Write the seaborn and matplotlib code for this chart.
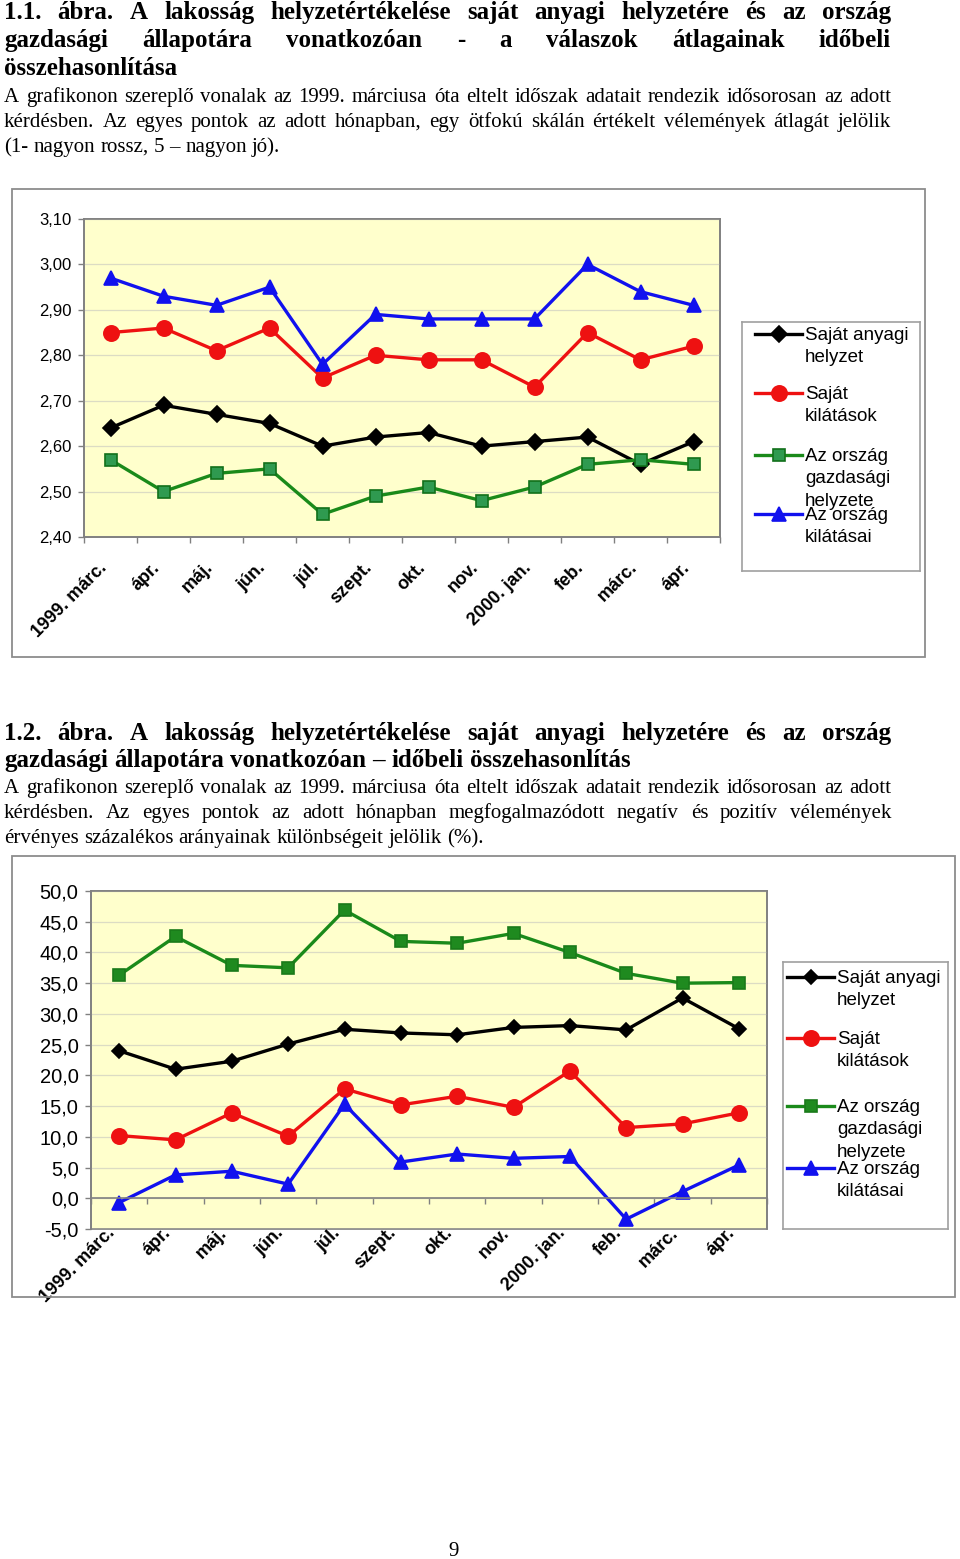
import numpy as np
import pandas as pd
import matplotlib
matplotlib.use("Agg")
import matplotlib.pyplot as plt
import matplotlib.transforms as mtransforms
import seaborn as sns
from matplotlib.patches import Rectangle

# Adatok
honapok = ["1999. márc.", "ápr.", "máj.", "jún.", "júl.", "szept.", "okt.",
           "nov.", "2000. jan.", "feb.", "márc.", "ápr."]

# 1.1. ábra - átlagok
sajat_anyagi_1 = [2.64, 2.69, 2.67, 2.65, 2.60, 2.62, 2.63, 2.60, 2.61, 2.62, 2.56, 2.61]
sajat_kilatas_1 = [2.85, 2.86, 2.81, 2.86, 2.75, 2.80, 2.79, 2.79, 2.73, 2.85, 2.79, 2.82]
orszag_gazd_1 = [2.57, 2.50, 2.54, 2.55, 2.45, 2.49, 2.51, 2.48, 2.51, 2.56, 2.57, 2.56]
orszag_kilatas_1 = [2.97, 2.93, 2.91, 2.95, 2.78, 2.89, 2.88, 2.88, 2.88, 3.00, 2.94, 2.91]

# 1.2. ábra - különbségek (%)
sajat_anyagi_2 = [24.0, 21.0, 22.3, 25.1, 27.5, 26.9, 26.6, 27.8, 28.1, 27.4, 32.6, 27.6]
sajat_kilatas_2 = [10.2, 9.5, 13.9, 10.1, 17.8, 15.2, 16.6, 14.8, 20.7, 11.5, 12.1, 13.9]
orszag_gazd_2 = [36.3, 42.6, 37.9, 37.5, 46.9, 41.8, 41.5, 43.1, 40.0, 36.6, 35.0, 35.1]
orszag_kilatas_2 = [-0.7, 3.8, 4.4, 2.3, 15.3, 5.9, 7.2, 6.5, 6.8, -3.4, 1.1, 5.4]

labels = ["Saját anyagi\nhelyzet", "Saját\nkilátások",
          "Az ország\ngazdasági\nhelyzete", "Az ország\nkilátásai"]

W, H = 960, 1559
SERIF = "Liberation Serif"
SANS = "Liberation Sans"
GRAY = "#808080"

plt.rcParams["font.family"] = [SANS, "DejaVu Sans"]

fig = plt.figure(figsize=(W / 100, H / 100), dpi=100)
fig.patch.set_facecolor("white")


def rect(l, t, r, b):
    return [l / W, 1 - b / H, (r - l) / W, (b - t) / H]


def justify(line, y, size, weight="normal", full=True, x0=4, x1=891):
    words = line.split(" ")
    texts = [fig.text(0, 1 - y / H, w, fontsize=size, weight=weight,
                      family=SERIF, va="baseline") for w in words]
    r = fig.canvas.get_renderer()
    widths = [t.get_window_extent(r).width for t in texts]
    if full and len(words) > 1:
        gap = (x1 - x0 - sum(widths)) / (len(words) - 1)
    else:
        gap = size * 0.25 * 100 / 72
    x = x0
    for t, w in zip(texts, widths):
        t.set_x(x / W)
        x += w + gap


# Szövegek
justify("1.1. ábra. A lakosság helyzetértékelése saját anyagi helyzetére és az ország", 19, 18, "bold")
justify("gazdasági állapotára vonatkozóan - a válaszok átlagainak időbeli", 47, 18, "bold")
justify("összehasonlítása", 75, 18, "bold", full=False)
justify("A grafikonon szereplő vonalak az 1999. márciusa óta eltelt időszak adatait rendezik idősorosan az adott", 102, 15)
justify("kérdésben. Az egyes pontok az adott hónapban, egy ötfokú skálán értékelt vélemények átlagát jelölik", 127, 15)
justify("(1- nagyon rossz, 5 – nagyon jó).", 152, 15, full=False)

justify("1.2. ábra. A lakosság helyzetértékelése saját anyagi helyzetére és az ország", 740, 18, "bold")
justify("gazdasági állapotára vonatkozóan – időbeli összehasonlítás", 767, 18, "bold", full=False)
justify("A grafikonon szereplő vonalak az 1999. márciusa óta eltelt időszak adatait rendezik idősorosan az adott", 793, 15)
justify("kérdésben. Az egyes pontok az adott hónapban megfogalmazódott negatív és pozitív vélemények", 818, 15)
justify("érvényes százalékos arányainak különbségeit jelölik (%).", 843, 15, full=False)

fig.text(448 / W, 1 - 1556 / H, "9", fontsize=15, family=SERIF, va="baseline")

# Diagram keretek
fig.add_artist(Rectangle((12 / W, 1 - 657 / H), 913 / W, 468 / H, transform=fig.transFigure,
                         fill=False, edgecolor="#8c8c8c", lw=1.3))
fig.add_artist(Rectangle((12 / W, 1 - 1297 / H), 943 / W, 441 / H, transform=fig.transFigure,
                         fill=False, edgecolor="#8c8c8c", lw=1.3))


def draw_chart(ax, data, styles, ylim, yticks, ydec, yfs, zero_axis, xpad, xshift):
    x = np.arange(len(honapok))
    for vals, st in zip(data, styles):
        sns.lineplot(x=x, y=vals, ax=ax, color=st["color"], lw=2.4,
                     marker=st["marker"], markersize=st["ms"],
                     markerfacecolor=st["mfc"], markeredgecolor=st["mec"],
                     markeredgewidth=1.2)
    for s in ax.spines.values():
        s.set_color(GRAY)
        s.set_linewidth(1.2)
    if zero_axis:
        ax.spines["bottom"].set_position(("data", 0))
    ax.set_facecolor("#ffffcc")
    ax.patch.set_edgecolor(GRAY)
    ax.patch.set_linewidth(1.2)
    ax.set_xlim(-0.5, len(honapok) - 0.5)
    ax.set_ylim(*ylim)
    ax.set_yticks(yticks)
    ax.set_yticklabels([f"{v:.{ydec}f}".replace(".", ",") for v in yticks], fontsize=yfs)
    ax.yaxis.grid(True, color="#dcdcc4", lw=0.9)
    ax.set_axisbelow(True)
    ax.set_xticks(x)
    ax.set_xticklabels(honapok, rotation=45, ha="right", va="center",
                       rotation_mode="anchor", fontsize=13, weight="bold")
    ax.set_xticks(np.arange(-0.5, len(honapok)), minor=True)
    ax.tick_params(axis="x", which="major", length=0, pad=xpad)
    ax.tick_params(axis="x", which="minor", length=4, color=GRAY, width=1)
    ax.tick_params(axis="y", length=4, color=GRAY, width=1, pad=5)
    shift = mtransforms.ScaledTranslation(xshift / 100, 0, fig.dpi_scale_trans)
    for lab in ax.get_xticklabels():
        lab.set_transform(lab.get_transform() + shift)
    ax.set_xlabel("")
    ax.set_ylabel("")


def draw_legend(box, ys, hx, styles, fs):
    lax = fig.add_axes(rect(*box))
    lax.set_xlim(box[0], box[2])
    lax.set_ylim(box[3], box[1])
    lax.set_xticks([])
    lax.set_yticks([])
    for s in lax.spines.values():
        s.set_color("#a0a0a0")
        s.set_linewidth(1.2)
    for y, lab, st in zip(ys, labels, styles):
        lax.plot([hx[0], hx[2]], [y, y], color=st["color"], lw=2.4)
        lax.plot([hx[1]], [y], marker=st["marker"], ms=st["ms"], color=st["color"],
                 mfc=st["mfc"], mec=st["mec"], mew=1.2)
        lax.text(hx[2] + 3, y - 7, lab, fontsize=fs, va="top", ha="left",
                 linespacing=1.42)


styles1 = [
    dict(color="#000000", marker="D", ms=8.5, mfc="#000000", mec="#000000"),
    dict(color="#ee1111", marker="o", ms=11, mfc="#ee1111", mec="#ee1111"),
    dict(color="#1a8a1a", marker="s", ms=8, mfc="#2f9a50", mec="#11701a"),
    dict(color="#1111ee", marker="^", ms=10, mfc="#1111ee", mec="#1111ee"),
]
styles2 = [
    dict(color="#000000", marker="D", ms=7, mfc="#000000", mec="#000000"),
    dict(color="#ee1111", marker="o", ms=11, mfc="#ee1111", mec="#ee1111"),
    dict(color="#1a8a1a", marker="s", ms=8.5, mfc="#1f8a1f", mec="#1a7a1a"),
    dict(color="#1111ee", marker="^", ms=10, mfc="#1111ee", mec="#1111ee"),
]

ax1 = fig.add_axes(rect(84, 219, 720, 537))
draw_chart(ax1, [sajat_anyagi_1, sajat_kilatas_1, orszag_gazd_1, orszag_kilatas_1],
           styles1, (2.40, 3.10), np.round(np.arange(2.40, 3.101, 0.10), 2), 2, 12,
           zero_axis=False, xpad=20, xshift=-6)
draw_legend((742, 322, 920, 571), [334, 393, 455, 514], (755, 779, 802), styles1, 13.5)

ax2 = fig.add_axes(rect(91, 891, 767, 1229))
draw_chart(ax2, [sajat_anyagi_2, sajat_kilatas_2, orszag_gazd_2, orszag_kilatas_2],
           styles2, (-5, 50), np.arange(-5, 50.1, 5.0), 1, 14.5,
           zero_axis=True, xpad=23, xshift=-7)
draw_legend((783, 962, 948, 1229), [977, 1038, 1106, 1168], (787, 811, 834), styles2, 13.5)

fig.savefig("out.png", dpi=100)
